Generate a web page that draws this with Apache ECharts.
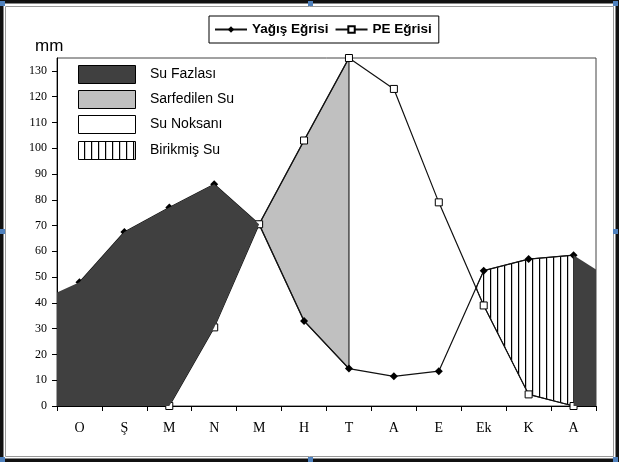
<!DOCTYPE html>
<html><head><meta charset="utf-8">
<script src="https://cdn.jsdelivr.net/npm/echarts@6/dist/echarts.min.js"></script>
<style>html,body{margin:0;padding:0;background:#fff}#c{width:621px;height:463px}</style>
</head><body><div id="c"></div>
<script>
// ---- data ----
const months = ['O', 'Ş', 'M', 'N', 'M', 'H', 'T', 'A', 'E', 'Ek', 'K', 'A'];
const rain = [48, 67.5, 77, 86, 70.5, 33, 14.5, 11.5, 13.5, 52.5, 57, 58.5];   // Yağış Eğrisi
const pe   = [0, 0, 0, 30.5, 70.5, 103, 135, 123, 79, 39, 4.5, 0];             // PE Eğrisi
const peFirstShown = 2;            // PE curve is drawn from March on
const rainEdge = [44, 53];         // precipitation level at the plot's left / right edge (fills only)
const yTicks = [0, 10, 20, 30, 40, 50, 60, 70, 80, 90, 100, 110, 120, 130];
const fillLegend = ['Su Fazlası', 'Sarfedilen Su', 'Su Noksanı', 'Birikmiş Su'];

// ---- helpers ----
const X = i => i + 0.5;
const rainPts = (a, b) => { const r = []; for (let i = a; i <= b; i++) r.push([X(i), rain[i]]); return r; };
const pePts = (a, b) => { const r = []; if (a <= b) { for (let i = a; i <= b; i++) r.push([X(i), pe[i]]); } else { for (let i = a; i >= b; i--) r.push([X(i), pe[i]]); } return r; };
const rainRev = (a, b) => rainPts(b, a).reverse();
function crossing(i) {
  const d0 = rain[i] - pe[i], d1 = rain[i + 1] - pe[i + 1];
  const t = d0 / (d0 - d1);
  return [X(i) + t, rain[i] + t * (rain[i + 1] - rain[i])];
}

// hatch pattern
const pc = document.createElement('canvas');
pc.width = 7; pc.height = 8;
const pctx = pc.getContext('2d');
pctx.fillStyle = '#fff'; pctx.fillRect(0, 0, 7, 8);
pctx.fillStyle = '#000'; pctx.fillRect(0, 0, 1.2, 8);
const hatch = { image: pc, repeat: 'repeat' };

// regions
const surplusL = [[0, rainEdge[0]]].concat(rainPts(0, 4), pePts(4, 0), [[0, 0]]);
const used = pePts(4, 6).concat(rainRev(6, 4));
const c89 = crossing(8);
const stored = [c89].concat(rainPts(9, 11), pePts(11, 9));
const surplusR = [[X(11), pe[11]], [X(11), rain[11]], [12, rainEdge[1]], [12, 0]];

function region(name, pts, style, z) {
  return {
    type: 'custom', name: name, coordinateSystem: 'cartesian2d', xAxisIndex: 1, yAxisIndex: 0,
    silent: true, z: z, data: [[0, 0]],
    renderItem: (params, api) => ({
      type: 'polygon',
      shape: { points: pts.map(p => api.coord(p)) },
      style: style
    })
  };
}

const chart = echarts.init(document.getElementById('c'));
const serif = 'Liberation Serif, Times New Roman, serif';
const sans = 'Liberation Sans, Arial, sans-serif';

const legendY = [65, 90, 115, 141];
const legendGraphics = [];
const boxFills = ['#404040', '#c0c0c0', '#ffffff', hatch];
fillLegend.forEach((t, k) => {
  legendGraphics.push({ type: 'rect', shape: { x: 78.5, y: legendY[k] + 0.5, width: 57, height: 18 },
    style: { fill: boxFills[k], stroke: '#000', lineWidth: 1 }, z: 20 });
  legendGraphics.push({ type: 'text', x: 150, y: legendY[k] + 9.5,
    style: { text: t, font: '14px ' + sans, fill: '#000', textVerticalAlign: 'middle' }, z: 20 });
});

const frame = [
  { type: 'rect', shape: { x: 1.75, y: 1.75, width: 615.5, height: 458.5 }, style: { fill: null, stroke: '#111', lineWidth: 3.5 }, z: 30 },
  { type: 'rect', shape: { x: 5.5, y: 6.5, width: 608, height: 450 }, style: { fill: null, stroke: '#999', lineWidth: 1 }, z: 30 },
  { type: 'text', x: 35, y: 46, style: { text: 'mm', font: '17px ' + sans, fill: '#000', textVerticalAlign: 'middle' }, z: 20 }
];
const handleSpots = [[0, 1], [308, 1], [613, 1], [0, 229], [613, 229], [0, 457], [308, 457], [613, 457]];
handleSpots.forEach(h => frame.push({ type: 'rect', shape: { x: h[0], y: h[1], width: 5, height: 5 }, style: { fill: '#4f81bd' }, z: 31 }));

chart.setOption({
  animation: false,
  backgroundColor: '#fff',
  grid: { left: 57, right: 25, top: 58, bottom: 57, show: true, borderColor: '#444', borderWidth: 1, backgroundColor: '#fff' },
  legend: {
    data: ['Yağış Eğrisi', 'PE Eğrisi'],
    left: 209, top: 16, orient: 'horizontal',
    padding: [5, 7, 5, 5], itemGap: 6, itemWidth: 32, itemHeight: 8,
    borderColor: '#000', borderWidth: 1, backgroundColor: '#fff',
    textStyle: { fontFamily: sans, fontWeight: 'bold', fontSize: 13.5, color: '#000', lineHeight: 17 }
  },
  xAxis: [
    { type: 'category', data: months, boundaryGap: true, position: 'bottom',
      axisLine: { lineStyle: { color: '#000', width: 1 } },
      axisTick: { show: true, length: 5, lineStyle: { color: '#000' } },
      axisLabel: { fontFamily: serif, fontSize: 14, color: '#000', margin: 15 },
      splitLine: { show: false } },
    { type: 'value', min: 0, max: 12, show: false }
  ],
  yAxis: {
    type: 'value', min: 0, max: 135, interval: 10,
    axisLine: { show: true, lineStyle: { color: '#000', width: 1 } },
    axisTick: { show: true, length: 5, lineStyle: { color: '#000' }, customValues: yTicks },
    axisLabel: { fontFamily: serif, fontSize: 12, color: '#000', margin: 10, customValues: yTicks },
    splitLine: { show: false }
  },
  graphic: legendGraphics.concat(frame),
  series: [
    region('used', used, { fill: '#c0c0c0', stroke: '#333', lineWidth: 1.3 }, 1),
    region('stored', stored, { fill: hatch, stroke: '#222', lineWidth: 1 }, 1),
    { type: 'line', name: 'Yağış Eğrisi', xAxisIndex: 1, yAxisIndex: 0, z: 3,
      data: rain.map((v, i) => [X(i), v]),
      symbol: 'diamond', symbolSize: 8, showAllSymbol: true,
      lineStyle: { color: '#111', width: 1.2 }, itemStyle: { color: '#000' } },
    { type: 'line', name: 'PE Eğrisi', xAxisIndex: 1, yAxisIndex: 0, z: 4,
      data: pe.map((v, i) => [X(i), i < peFirstShown ? null : v]).filter(p => p[1] !== null),
      symbol: 'rect', symbolSize: 7, showAllSymbol: true,
      lineStyle: { color: '#111', width: 1.2 }, itemStyle: { color: '#fff', borderColor: '#000', borderWidth: 1 } },
    region('surplusL', surplusL, { fill: '#404040' }, 5),
    region('surplusR', surplusR, { fill: '#404040' }, 5)
  ]
});
</script>
</body></html>
